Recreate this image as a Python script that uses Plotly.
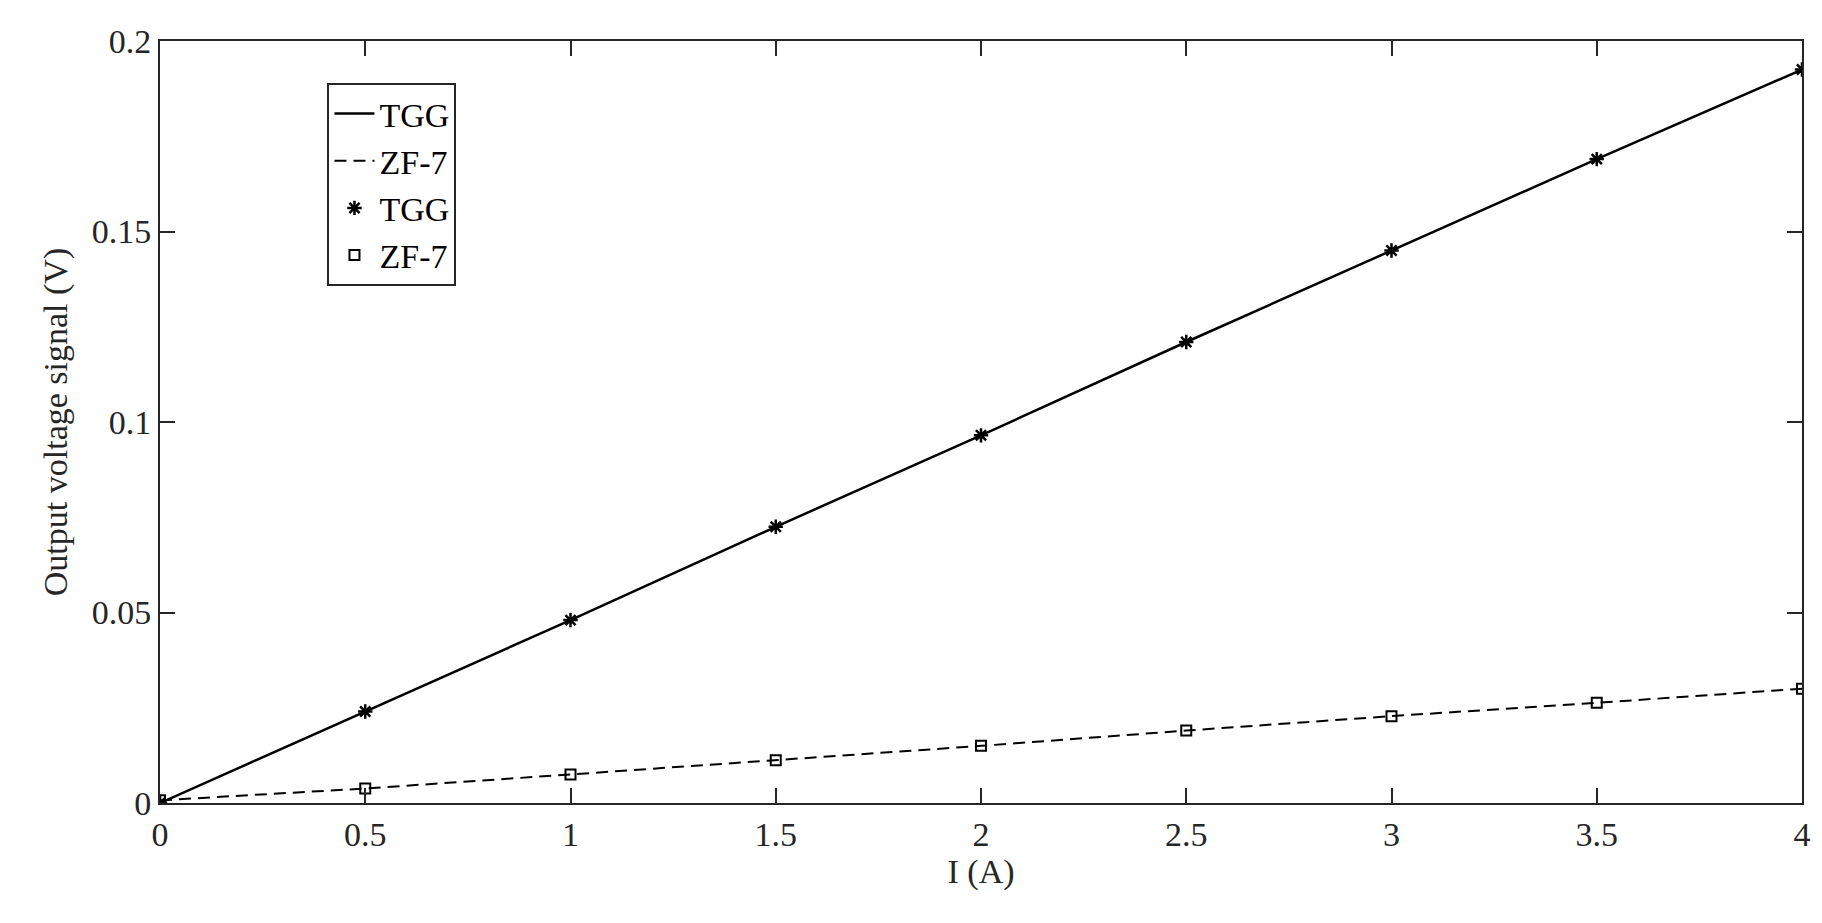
import plotly.graph_objects as go

current = [0, 0.5, 1, 1.5, 2, 2.5, 3, 3.5, 4]
tgg = [0.0, 0.024, 0.048, 0.0725, 0.0965, 0.121, 0.145, 0.169, 0.1925]
zf7 = [0.0007, 0.0038, 0.0075, 0.0112, 0.015, 0.019, 0.0228, 0.0263, 0.030]

fnt = "Liberation Serif"
fig = go.Figure()
fig.add_trace(go.Scatter(x=current, y=tgg, mode="lines", name="TGG",
                         line=dict(color="black", width=2.5)))
fig.add_trace(go.Scatter(x=current, y=zf7, mode="lines", name="ZF-7",
                         line=dict(color="black", width=2, dash="12px,7px")))
fig.add_trace(go.Scatter(x=current, y=tgg, mode="markers", name="TGG",
                         marker=dict(symbol="asterisk-open", size=12, color="black",
                                     line=dict(color="black", width=2.5))))
fig.add_trace(go.Scatter(x=current, y=zf7, mode="markers", name="ZF-7",
                         marker=dict(symbol="square-open", size=10, color="black",
                                     line=dict(color="black", width=2))))

axis = dict(showgrid=False, zeroline=False, showline=True, linecolor="#262626",
            linewidth=2, mirror="ticks", ticks="inside", ticklen=15,
            tickcolor="#262626", tickwidth=2,
            tickfont=dict(family=fnt, size=34, color="#262626"))
fig.update_xaxes(range=[0, 4], dtick=0.5, title=dict(text="I (A)", standoff=6,
                 font=dict(family=fnt, size=34, color="#262626")), **axis)
fig.update_yaxes(range=[0, 0.2], dtick=0.05, tickformat="~g",
                 title=dict(text="Output voltage signal (V)", standoff=14,
                            font=dict(family=fnt, size=34, color="#262626")), **axis)
fig.update_layout(
    width=1822, height=923,
    margin=dict(l=152, r=28, t=33, b=128),
    plot_bgcolor="white", paper_bgcolor="white",
    legend=dict(x=0.102, y=0.945, xanchor="left", yanchor="top",
                bgcolor="white", bordercolor="#262626", borderwidth=2,
                font=dict(family=fnt, size=34, color="black"),
                tracegroupgap=0, itemwidth=40),
)
fig.write_html("out.html")
